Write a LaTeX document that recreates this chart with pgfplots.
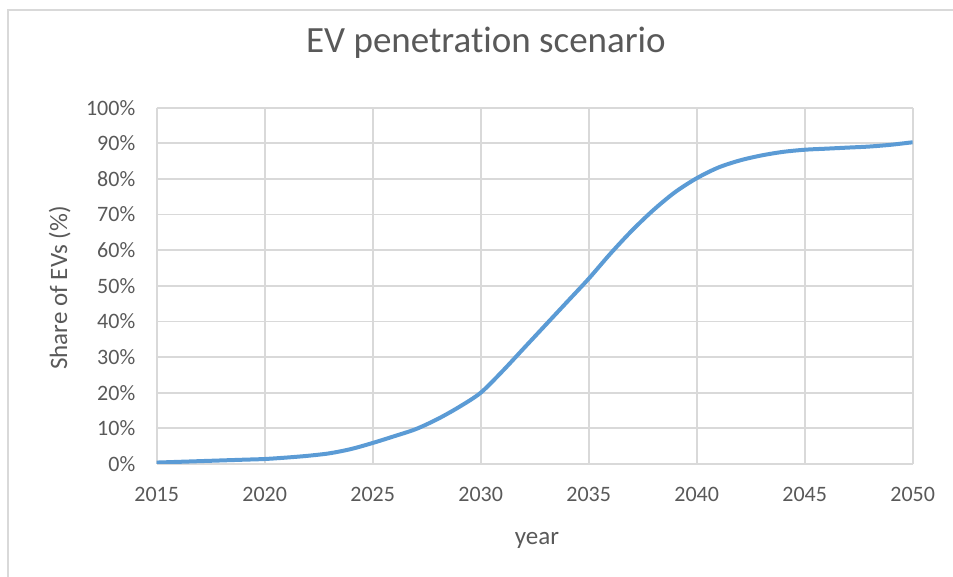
\documentclass[border=0pt]{standalone}
\usepackage{fontspec}
\setmainfont{Carlito}[Ligatures=NoCommon]
\usepackage{pgfplots}
\pgfplotsset{compat=1.18}

\definecolor{txtgray}{HTML}{595959}
\definecolor{gridgray}{HTML}{D9D9D9}
\definecolor{evblue}{HTML}{5B9BD5}

% share of EVs in %, yearly
\pgfplotstableread{
year share
2015 0.4
2016 0.6
2017 0.8
2018 1.0
2019 1.2
2020 1.4
2021 1.8
2022 2.3
2023 3.0
2024 4.2
2025 5.9
2026 7.8
2027 9.8
2028 12.6
2029 16.0
2030 20.0
2031 26.0
2032 32.5
2033 39.0
2034 45.5
2035 52.0
2036 59.0
2037 65.5
2038 71.3
2039 76.3
2040 80.2
2041 83.2
2042 85.2
2043 86.6
2044 87.6
2045 88.2
2046 88.5
2047 88.8
2048 89.1
2049 89.6
2050 90.3
}\evdata

\begin{document}
\begin{tikzpicture}
\useasboundingbox (0,0) rectangle (476.5pt,288.5pt);
\draw[gridgray, line width=0.75pt] (4pt,0pt) -- (4pt,283.5pt) -- (476.5pt,283.5pt);

\begin{axis}[
    at={(78.35pt,56.5pt)}, anchor=south west,
    scale only axis,
    width=378pt, height=178.15pt,
    xmin=2015, xmax=2050, ymin=0, ymax=100,
    xtick distance=5, ytick distance=10,
    grid=major,
    grid style={gridgray, line width=0.9pt},
    axis line style={gridgray, line width=0.9pt},
    axis x line*=bottom, axis y line*=left,
    y axis line style={draw=none},
    major tick length=0pt,
    tick style={draw=none},
    /pgf/number format/assume math mode=true,
    /pgf/number format/1000 sep={},
    yticklabel={\pgfmathprintnumber{\tick}\%},
    ticklabel style={font=\fontsize{11}{13}\selectfont, text=txtgray},
    yticklabel style={xshift=-7.2pt},
    xticklabel style={yshift=-8pt},
]
\addplot[evblue, line width=2pt, smooth, tension=0.5] table[x=year, y=share] {\evdata};
\end{axis}

\node[anchor=base, text=txtgray, font=\fontsize{18.5}{22}\selectfont] at (243pt,262pt) {EV penetration scenario};
\node[anchor=base, text=txtgray, font=\fontsize{12.5}{15}\selectfont] at (268.5pt,16pt) {year};
\node[anchor=base, rotate=90, text=txtgray, font=\fontsize{12.5}{15}\selectfont] at (33.5pt,144.5pt) {Share of EVs (\%)};
\end{tikzpicture}
\end{document}
